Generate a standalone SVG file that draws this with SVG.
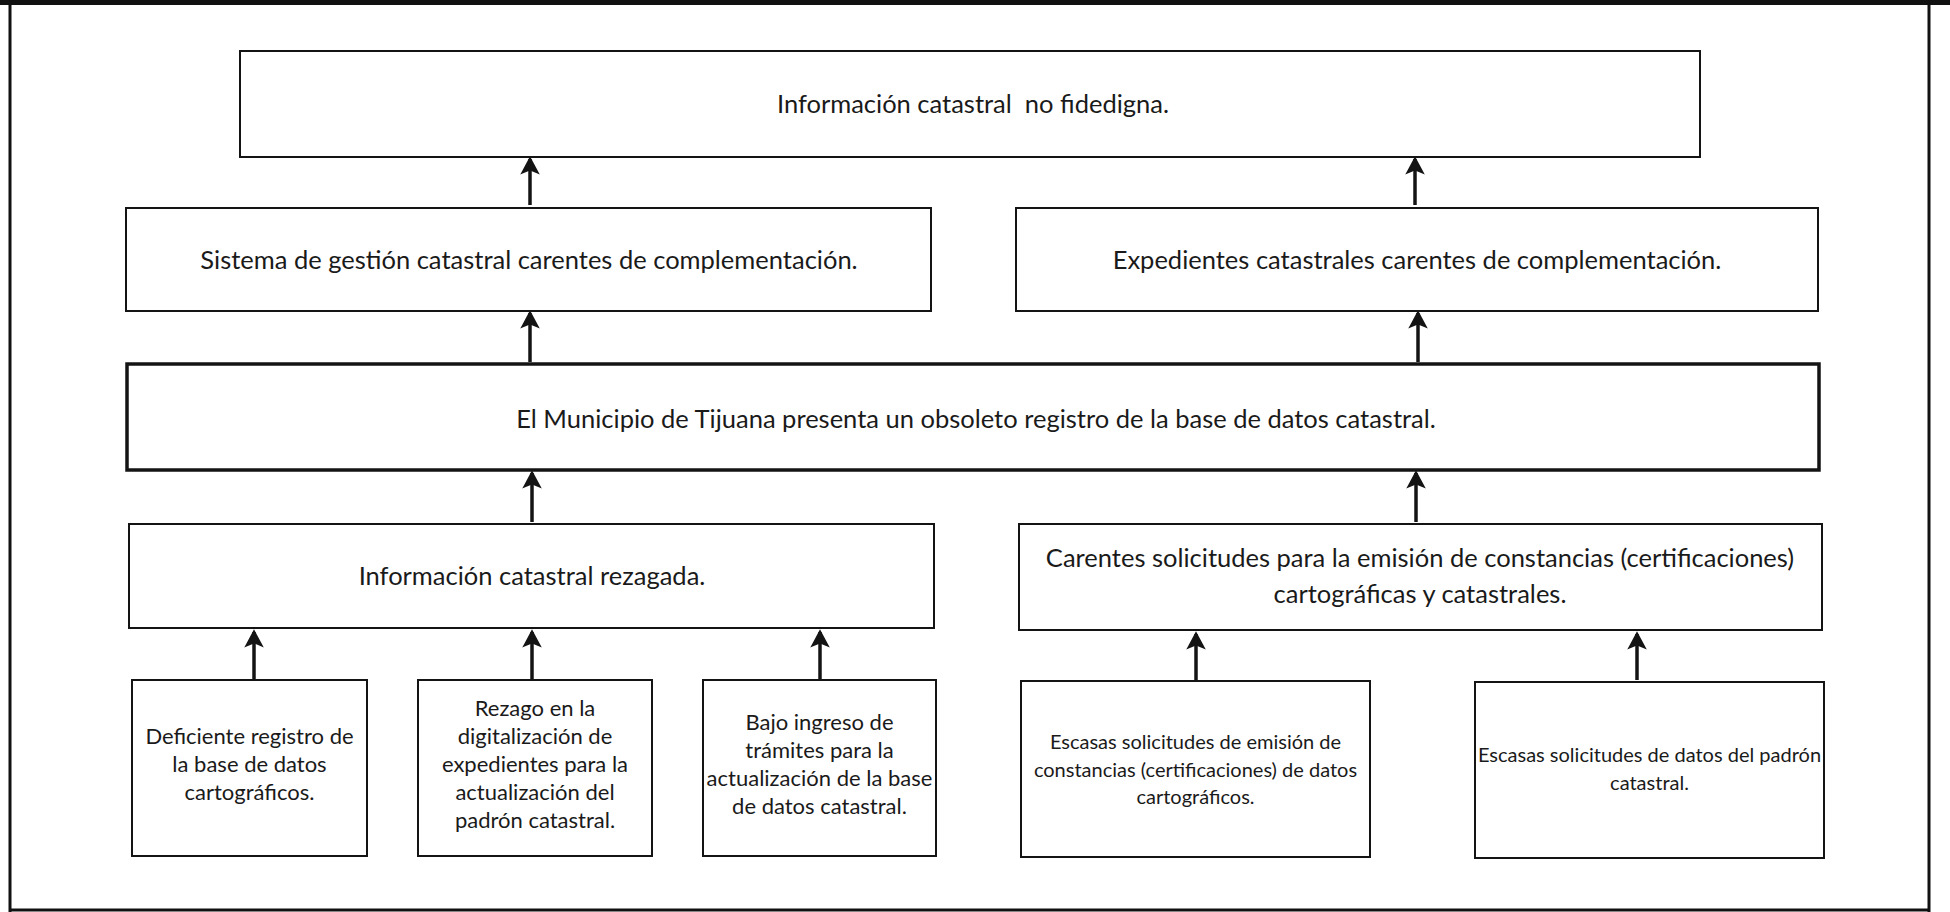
<svg xmlns="http://www.w3.org/2000/svg" width="1950" height="912" viewBox="0 0 1950 912">
<defs>
<style>
.box{fill:none;stroke:#141414;stroke-width:2}
.thick{stroke-width:3.5}
.t{font-family:Lato,"Open Sans","Liberation Sans",sans-serif;fill:#1a1a1a;text-anchor:middle}
.l{font-size:25.5px}
.s{font-size:22px}
.xs{font-size:20px}
.conn line{stroke:#141414;stroke-width:3.5}
</style>
<marker id="ah" viewBox="0 0 20 20" refX="17" refY="10" markerWidth="20" markerHeight="20" markerUnits="userSpaceOnUse" orient="auto">
<path d="M4,3 L17,10 L4,17 L7,10 Z" fill="#141414" stroke="#141414" stroke-width="2.5" stroke-linejoin="miter"/>
</marker>
</defs>
<rect x="0" y="0" width="1950" height="912" fill="#ffffff"/>
<g id="frame">
<rect x="0" y="0" width="1950" height="5" fill="#111"/>
<line x1="10" y1="3" x2="10" y2="912" stroke="#111" stroke-width="3"/>
<line x1="1929" y1="3" x2="1929" y2="912" stroke="#111" stroke-width="3"/>
<line x1="10" y1="910" x2="1929" y2="910" stroke="#111" stroke-width="3"/>
</g>
<g id="connectors" class="conn">
<line x1="530" y1="205" x2="530" y2="159" marker-end="url(#ah)"/>
<line x1="1415" y1="205" x2="1415" y2="159" marker-end="url(#ah)"/>
<line x1="530" y1="362" x2="530" y2="313" marker-end="url(#ah)"/>
<line x1="1418" y1="362" x2="1418" y2="313" marker-end="url(#ah)"/>
<line x1="532" y1="522" x2="532" y2="473" marker-end="url(#ah)"/>
<line x1="1416" y1="522" x2="1416" y2="473" marker-end="url(#ah)"/>
<line x1="254" y1="679" x2="254" y2="632" marker-end="url(#ah)"/>
<line x1="532" y1="679" x2="532" y2="632" marker-end="url(#ah)"/>
<line x1="820" y1="679" x2="820" y2="632" marker-end="url(#ah)"/>
<line x1="1196" y1="680" x2="1196" y2="634" marker-end="url(#ah)"/>
<line x1="1637" y1="680" x2="1637" y2="634" marker-end="url(#ah)"/>
</g>
<g id="n-top">
<rect class="box" x="240" y="51" width="1460" height="106"/>
<text class="t l" x="973" y="113" xml:space="preserve">Información catastral  no fidedigna.</text>
</g>
<g id="n-sistema">
<rect class="box" x="126" y="208" width="805" height="103"/>
<text class="t l" x="529" y="269">Sistema de gestión catastral carentes de complementación.</text>
</g>
<g id="n-expedientes">
<rect class="box" x="1016" y="208" width="802" height="103"/>
<text class="t l" x="1417" y="269">Expedientes catastrales carentes de complementación.</text>
</g>
<g id="n-municipio">
<rect class="box thick" x="127" y="364" width="1692" height="106"/>
<text class="t l" x="976" y="428">El Municipio de Tijuana presenta un obsoleto registro de la base de datos catastral.</text>
</g>
<g id="n-rezagada">
<rect class="box" x="129" y="524" width="805" height="104"/>
<text class="t l" x="532" y="585">Información catastral rezagada.</text>
</g>
<g id="n-carentes">
<rect class="box" x="1019" y="524" width="803" height="106"/>
<text class="t l" x="1420" y="567">Carentes solicitudes para la emisión de constancias (certificaciones)</text>
<text class="t l" x="1420" y="603">cartográficas y catastrales.</text>
</g>
<g id="n-deficiente">
<rect class="box" x="132" y="680" width="235" height="176"/>
<text class="t s" x="249.5" y="744">Deficiente registro de</text>
<text class="t s" x="249.5" y="772">la base de datos</text>
<text class="t s" x="249.5" y="800">cartográficos.</text>
</g>
<g id="n-rezago">
<rect class="box" x="418" y="680" width="234" height="176"/>
<text class="t s" x="535" y="716">Rezago en la</text>
<text class="t s" x="535" y="744">digitalización de</text>
<text class="t s" x="535" y="772">expedientes para la</text>
<text class="t s" x="535" y="800">actualización del</text>
<text class="t s" x="535" y="828">padrón catastral.</text>
</g>
<g id="n-bajo">
<rect class="box" x="703" y="680" width="233" height="176"/>
<text class="t s" x="819.5" y="730">Bajo ingreso de</text>
<text class="t s" x="819.5" y="758">trámites para la</text>
<text class="t s" x="819.5" y="786">actualización de la base</text>
<text class="t s" x="819.5" y="814">de datos catastral.</text>
</g>
<g id="n-escasas1">
<rect class="box" x="1021" y="681" width="349" height="176"/>
<text class="t xs" x="1195.5" y="749">Escasas solicitudes de emisión de</text>
<text class="t xs" x="1195.5" y="777">constancias (certificaciones) de datos</text>
<text class="t xs" x="1195.5" y="804">cartográficos.</text>
</g>
<g id="n-escasas2">
<rect class="box" x="1475" y="682" width="349" height="176"/>
<text class="t xs" x="1649.5" y="762">Escasas solicitudes de datos del padrón</text>
<text class="t xs" x="1649.5" y="790">catastral.</text>
</g>
</svg>
